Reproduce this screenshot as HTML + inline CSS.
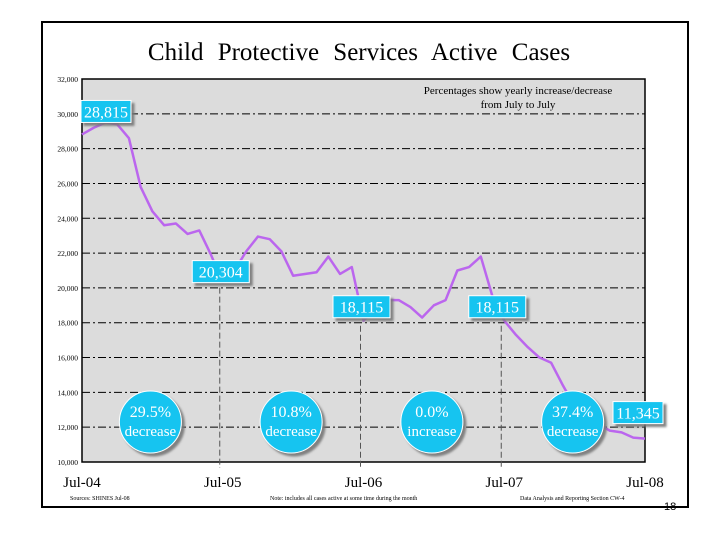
<!DOCTYPE html>
<html><head><meta charset="utf-8"><style>
body{margin:0;background:#fff;width:720px;height:540px;overflow:hidden;font-family:"Liberation Serif",serif}
</style></head><body>
<svg id="c" width="720" height="540" xmlns="http://www.w3.org/2000/svg">
<defs><filter id="sh" x="-20%" y="-20%" width="150%" height="150%"><feDropShadow dx="3" dy="3" stdDeviation="1" flood-color="#777" flood-opacity="0.9"/></filter></defs>
<rect x="42" y="22" width="646" height="485" fill="#fff" stroke="#000" stroke-width="2"/>
<text x="359" y="60" text-anchor="middle" font-size="25" word-spacing="8">Child Protective Services Active Cases</text>
<rect x="82" y="79" width="563" height="383" fill="#dcdcdc" stroke="#000" stroke-width="1.5"/>
<g id="grid"></g><g id="axes"></g><g id="series"></g><g id="ann"></g>
<text x="518" y="94" text-anchor="middle" font-size="11">Percentages show yearly increase/decrease</text>
<text x="518" y="108" text-anchor="middle" font-size="11">from July to July</text>
<text x="70" y="500" font-size="6">Sources: SHINES    Jul-08</text>
<text x="270" y="500" font-size="6">Note: includes all cases active at some time during the month</text>
<text x="520" y="500" font-size="6">Data Analysis and Reporting Section CW-4</text>
<text x="664" y="510" font-size="11" font-family="Liberation Sans,sans-serif">18</text>
</svg>
<script>
const values=[28815,29200,29500,29400,28600,25800,24400,23600,23700,23100,23300,21900,20304,21000,22100,22950,22800,22100,20700,20800,20900,21800,20800,21200,18115,18800,19300,19300,18900,18300,19000,19300,21000,21200,21800,19500,18115,17300,16600,16000,15700,14400,13200,12500,12200,11800,11700,11400,11345];
const yTicks=[10000,12000,14000,16000,18000,20000,22000,24000,26000,28000,30000,32000];
const xTickIdx=[0,12,24,36,48];
const xTickLabels=["Jul-04","Jul-05","Jul-06","Jul-07","Jul-08"];
const calloutIdx=[0,12,24,36,48];
const calloutText=["28,815","20,304","18,115","18,115","11,345"];
const pctText=["29.5%","10.8%","0.0%","37.4%"];
const pctWord=["decrease","decrease","increase","decrease"];
const NS="http://www.w3.org/2000/svg";
const X=i=>82+i*(563/48), Y=v=>462-(v-10000)*(383/22000);
function mk(p,t,a){const e=document.createElementNS(NS,t);for(const k in a)e.setAttribute(k,a[k]);p.appendChild(e);return e;}
const grid=document.getElementById('grid'),axes=document.getElementById('axes'),ser=document.getElementById('series'),ann=document.getElementById('ann');
yTicks.forEach(v=>{
 if(v>10000&&v<32000){const l=mk(grid,'line',{x1:82,x2:645,y1:Y(v),y2:Y(v),stroke:'#000','stroke-width':1,'stroke-dasharray':'8,3,2,3'});
 
 }
 const t=mk(axes,'text',{x:78,y:Y(v)+3,'text-anchor':'end','font-size':7.5});t.textContent=v.toLocaleString('en-US');
 
 
});
xTickIdx.forEach((i,k)=>{
 const t=mk(axes,'text',{x:X(i),y:487,'text-anchor':'middle','font-size':15});t.textContent=xTickLabels[k];
 
 
});
[1,2,3].forEach(k=>{const i=calloutIdx[k];
 const l=mk(grid,'line',{x1:X(i)-3,x2:X(i)-3,y1:Y(values[i])+5,y2:468,stroke:'#555','stroke-width':1,'stroke-dasharray':'6,3'});
 
 });
const p=mk(ser,'polyline',{points:values.map((v,i)=>X(i)+','+Y(v)).join(' '),fill:'none',stroke:'#bb66ee','stroke-width':2.5,'stroke-linejoin':'round'});


const off=[[24,-23],[-2,-11],[-2,-14],[-7,-14],[-7,-26]];
calloutIdx.forEach((i,k)=>{
 const w=k==4?50:(k==0?50:57), cx=X(i)+off[k][0], cy=Y(values[i])+off[k][1];
 const g=mk(ann,'g',{});
 
 
 mk(g,'rect',{x:cx-w/2,y:cy-11,width:w,height:22,fill:'#16c4f0',stroke:'#fff','stroke-width':1,filter:'url(#sh)'});
 const t=mk(g,'text',{x:cx,y:cy+6,'text-anchor':'middle','font-size':16,fill:'#fff'});t.textContent=calloutText[k];
});
pctText.forEach((s,k)=>{
 const cx=(X(xTickIdx[k])+X(xTickIdx[k+1]))/2-2, cy=422;
 const g=mk(ann,'g',{});
 
 
 mk(g,'circle',{cx:cx,cy:cy,r:31,fill:'#16c4f0',stroke:'#fff','stroke-width':1,filter:'url(#sh)'});
 const t1=mk(g,'text',{x:cx,y:cy-5,'text-anchor':'middle','font-size':16,fill:'#fff'});t1.textContent=s;
 const t2=mk(g,'text',{x:cx,y:cy+14,'text-anchor':'middle','font-size':15,fill:'#fff'});t2.textContent=pctWord[k];
});
</script>
</body></html>
